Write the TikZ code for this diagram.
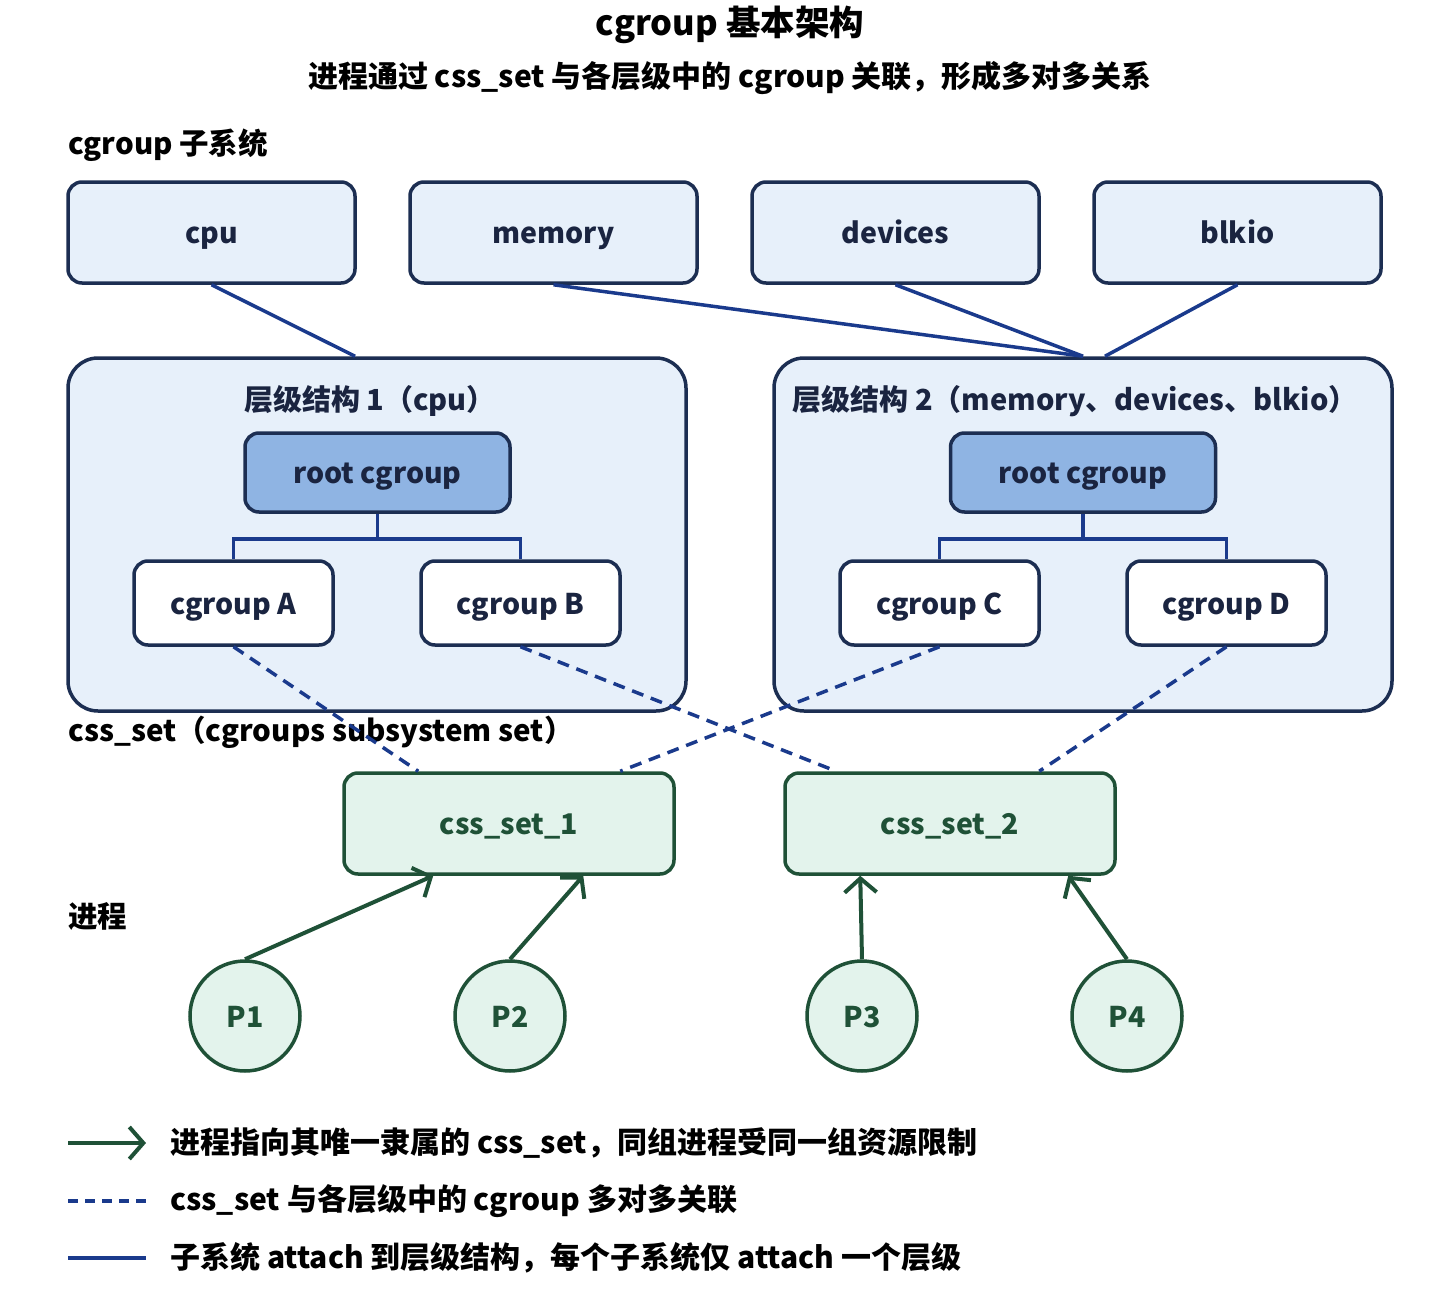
\documentclass[tikz,border=0pt]{standalone}
\usepackage{fontspec}
\setmainfont{Noto Sans CJK SC}
\usepackage{tikz}
\usetikzlibrary{arrows.meta,calc}
\definecolor{cgnavy}{HTML}{1C2E52}
\definecolor{cglink}{HTML}{1A3A8C}
\definecolor{cglight}{HTML}{E7F0FA}
\definecolor{cgroot}{HTML}{8FB4E3}
\definecolor{cgtext}{HTML}{1A2440}
\definecolor{cssgreen}{HTML}{1F5137}
\definecolor{csslight}{HTML}{E3F3EC}
\tikzset{
  boxfont/.style={font=\fontsize{28.5}{34}\selectfont\bfseries,text height=26pt,text depth=4pt},
  subsys/.style={draw=cgnavy,line width=3.5,rounded corners=14,fill=cglight,minimum width=287,minimum height=101,inner sep=0,boxfont,text=cgtext},
  hierbox/.style={draw=cgnavy,line width=3.5,rounded corners=30,fill=cglight,minimum width=618,minimum height=353,inner sep=0},
  hiertitle/.style={font=\fontsize{29}{34}\selectfont\bfseries,text=cgtext,inner sep=0},
  rootcg/.style={draw=cgnavy,line width=3.5,rounded corners=14,fill=cgroot,minimum width=265,minimum height=79,inner sep=0,boxfont,text=cgtext},
  childcg/.style={draw=cgnavy,line width=3.5,rounded corners=14,fill=white,minimum width=199,minimum height=84,inner sep=0,boxfont,text=cgtext},
  cssbox/.style={draw=cssgreen,line width=3.5,rounded corners=14,fill=csslight,minimum width=330,minimum height=101,inner sep=0,boxfont,text=cssgreen},
  procnode/.style={circle,draw=cssgreen,line width=3.5,fill=csslight,minimum size=110,inner sep=0,boxfont,text=cssgreen},
  secttl/.style={anchor=west,inner sep=0,font=\fontsize{29.5}{34}\selectfont\bfseries},
  legtxt/.style={anchor=west,inner sep=0,font=\fontsize{30}{35}\selectfont\bfseries},
  attach/.style={draw=cglink,line width=3.5},
  member/.style={draw=cglink,line width=3.5,dash pattern=on 12pt off 8pt},
  belongs/.style={draw=cssgreen,line width=4,-{Straight Barb[length=14pt,width=32pt]}}
}
\begin{document}
\begin{tikzpicture}[x=1pt,y=-1pt]
\useasboundingbox (0,0) rectangle (1452,1290);
% titles
\node[inner sep=0,font=\fontsize{34.5}{40}\selectfont\bfseries] (title) at (730,25) {cgroup 基本架构};
\node[inner sep=0,font=\fontsize{30}{35}\selectfont\bfseries] (subtitle) at (730,78) {进程通过 css\_set 与各层级中的 cgroup 关联，形成多对多关系};
\node[secttl] (lsub) at (68,145) {cgroup 子系统};
\node[secttl] (lcss) at (68,732) {css\_set（cgroups subsystem set）};
\node[secttl] (lproc) at (68,916) {进程};
% subsystems
\node[subsys] (cpu) at (211.5,232.5) {cpu};
\node[subsys] (mem) at (553.5,232.5) {memory};
\node[subsys] (dev) at (895.5,232.5) {devices};
\node[subsys] (blk) at (1237.5,232.5) {blkio};
% hierarchies
\node[hierbox] (h1) at (377,534.5) {};
\node[hierbox] (h2) at (1083,534.5) {};
\node[hiertitle] (h1t) at (370,401) {层级结构 1（cpu）};
\node[hiertitle] (h2t) at (1075,401) {层级结构 2（memory、devices、blkio）};
\node[rootcg] (r1) at (377.5,472.5) {root cgroup};
\node[rootcg] (r2) at (1083,472.5) {root cgroup};
\node[childcg] (ca) at (233.5,603) {cgroup A};
\node[childcg] (cb) at (520.5,603) {cgroup B};
\node[childcg] (cc) at (939.5,603) {cgroup C};
\node[childcg] (cd) at (1226.5,603) {cgroup D};
\draw[attach] (r1.south) -- ++(0,25) -| (ca.north);
\draw[attach] (r1.south) -- ++(0,25) -| (cb.north);
\draw[attach] (r2.south) -- ++(0,25) -| (cc.north);
\draw[attach] (r2.south) -- ++(0,25) -| (cd.north);
% subsystem attach
\draw[attach] (cpu.south) -- ($(h1.north)+(-22,0)$);
\draw[attach] (mem.south) -- (h2.north);
\draw[attach] (dev.south) -- (h2.north);
\draw[attach] (blk.south) -- ($(h2.north)+(22,0)$);
% css sets
\node[cssbox] (css1) at (509,823.5) {css\_set\_1};
\node[cssbox] (css2) at (950,823.5) {css\_set\_2};
\draw[member] (ca.south) -- ($(css1.north west)+(76,0)$);
\draw[member] (cb.south) -- ($(css2.north west)+(53,0)$);
\draw[member] (cc.south) -- ($(css1.north west)+(278,0)$);
\draw[member] (cd.south) -- ($(css2.north west)+(256,0)$);
% processes
\node[procnode] (p1) at (245,1016) {P1};
\node[procnode] (p2) at (510,1016) {P2};
\node[procnode] (p3) at (862,1016) {P3};
\node[procnode] (p4) at (1127,1016) {P4};
\draw[belongs] (p1.north) -- ($(css1.south west)+(91,0)$);
\draw[belongs] (p2.north) -- ($(css1.south west)+(241,0)$);
\draw[belongs] (p3.north) -- ($(css2.south west)+(77,0)$);
\draw[belongs] (p4.north) -- ($(css2.south west)+(285,0)$);
% legend
\coordinate (k1a) at (68,1143); \coordinate (k1b) at (146,1143);
\coordinate (k2a) at (68,1201); \coordinate (k2b) at (146,1201);
\coordinate (k3a) at (68,1258); \coordinate (k3b) at (146,1258);
\draw[belongs] (k1a) -- (k1b);
\draw[member,dash pattern=on 10pt off 7pt] (k2a) -- (k2b);
\draw[attach] (k3a) -- (k3b);
\node[legtxt] (t1) at (170,1143) {进程指向其唯一隶属的 css\_set，同组进程受同一组资源限制};
\node[legtxt] (t2) at (170,1201) {css\_set 与各层级中的 cgroup 多对多关联};
\node[legtxt] (t3) at (170,1258) {子系统 attach 到层级结构，每个子系统仅 attach 一个层级};
\end{tikzpicture}
\end{document}
